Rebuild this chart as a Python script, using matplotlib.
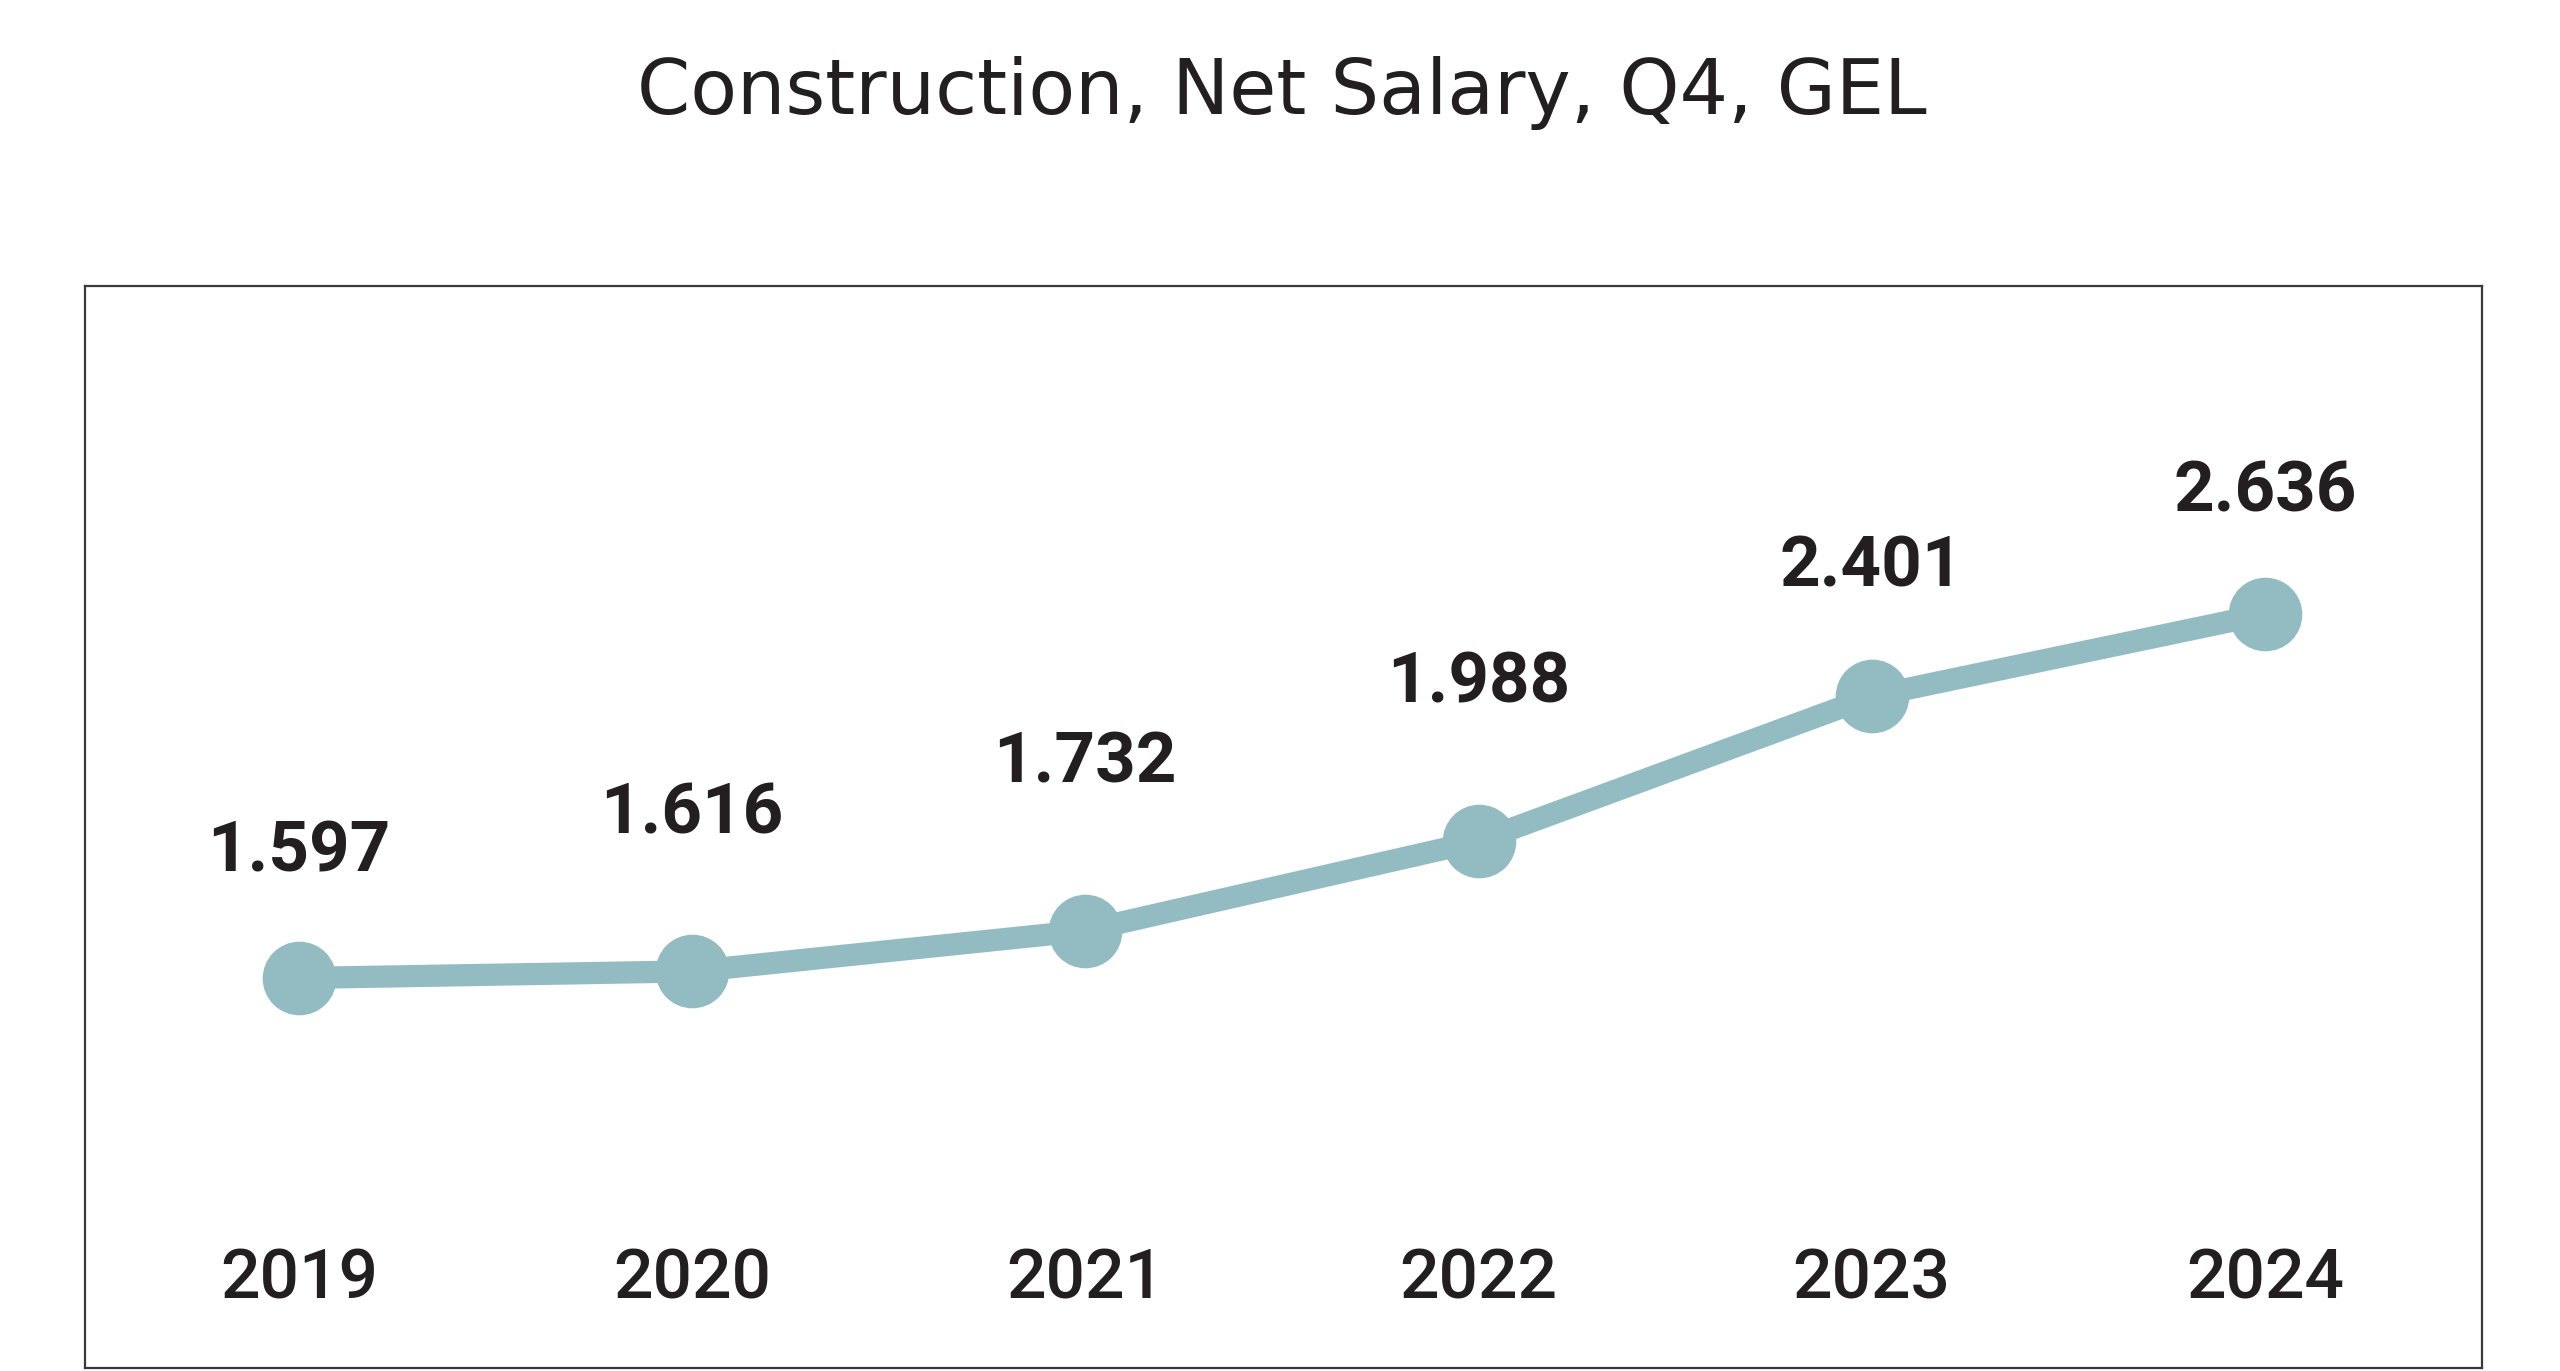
import matplotlib
matplotlib.use("Agg")
import matplotlib.pyplot as plt
import matplotlib.transforms as mtransforms

# data
years = ["2019", "2020", "2021", "2022", "2023", "2024"]
salary = [1597, 1616, 1732, 1988, 2401, 2636]
value_labels = ["1.597", "1.616", "1.732", "1.988", "2.401", "2.636"]

# how far above the dot each value label sits (points)
label_lift = [91, 113, 121, 114, 93, 88]

line_col = "#93bcc2"
text_col = "#231f20"

W, H = 2560, 1371
fig = plt.figure(figsize=(W / 100, H / 100), dpi=100)
fig.text(1282 / W, 1 - 93 / H, "Construction, Net Salary, Q4, GEL", ha="center", va="center",
         fontsize=55, color=text_col, family="DejaVu Sans")

# frame box: x 85..2482, y 286..1368 (pixels from top)
ax = fig.add_axes([85 / W, 3 / H, (2482 - 85) / W, (1368 - 286) / H])
x = list(range(len(years)))
ax.plot(x, salary, color=line_col, linewidth=16, marker="o", markersize=52,
        solid_capstyle="round", zorder=3)

ax.set_xlim(-0.544, 5.552)
ax.set_ylim(484, 3572)

for i, lab in enumerate(value_labels):
    ax.annotate(lab, (x[i], salary[i]), xytext=(0, label_lift[i]), textcoords="offset points",
                ha="center", va="center", fontsize=51, fontweight="bold",
                family="Roboto", color=text_col)

trans = mtransforms.blended_transform_factory(ax.transData, ax.transAxes)
for i, yr in enumerate(years):
    ax.text(x[i], 0.082, yr, transform=trans, ha="center", va="center",
            fontsize=50, family="Roboto", fontweight="medium", color=text_col)

ax.set_xticks([])
ax.set_yticks([])
for s in ax.spines.values():
    s.set_color("#3a3a3a")
    s.set_linewidth(1.6)

fig.savefig("out.png", dpi=100)
